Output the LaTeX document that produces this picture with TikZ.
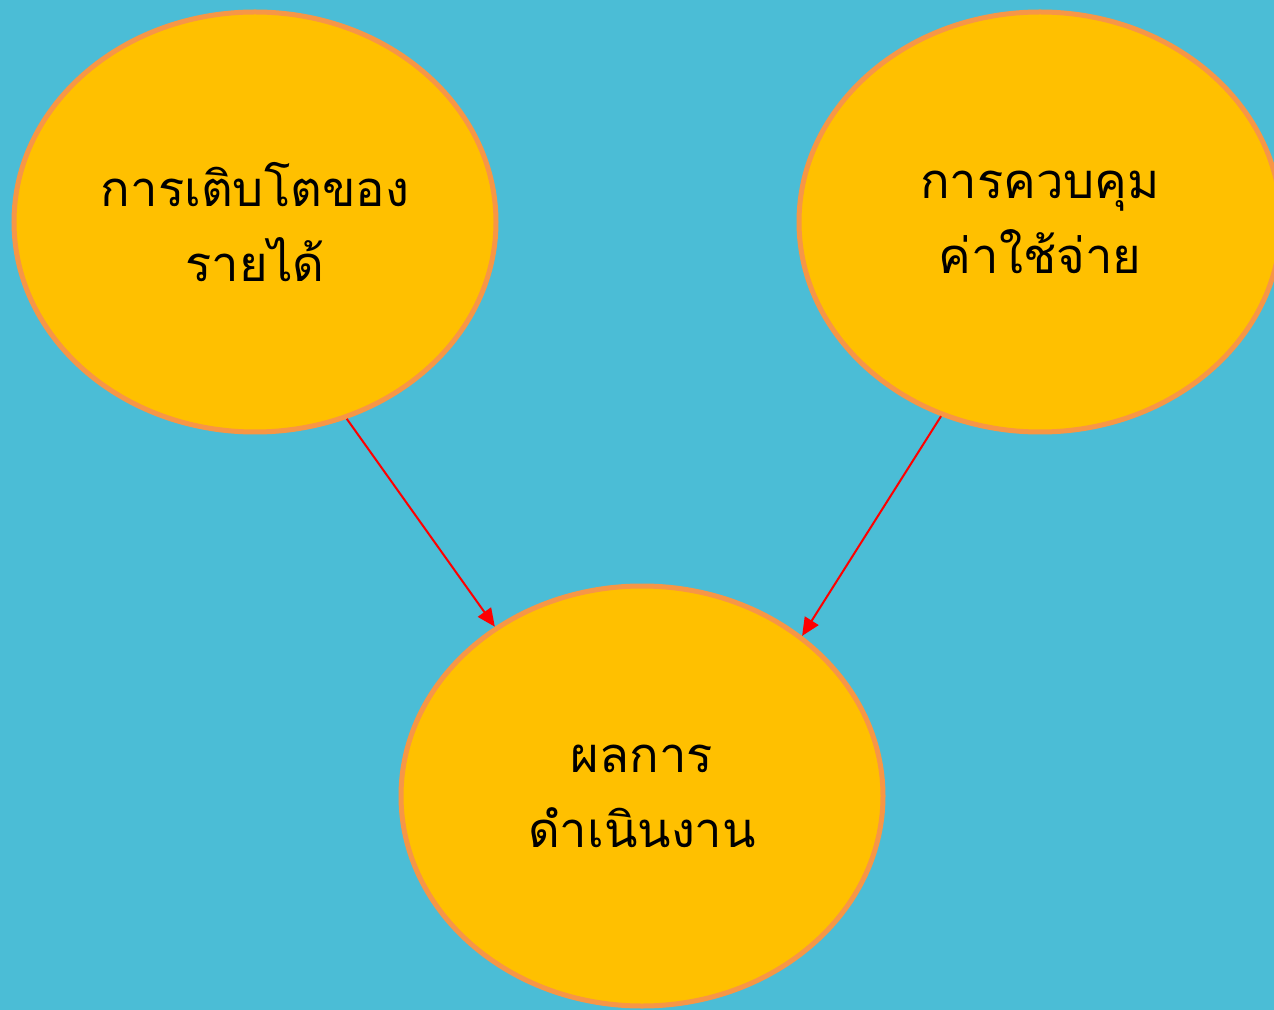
\documentclass[tikz,border=0pt]{standalone}
\usepackage{fontspec}
\newfontfamily\thaifont[Script=Thai]{Loma}
\usetikzlibrary{shapes.geometric,arrows.meta}
\definecolor{bgblue}{RGB}{75,189,214}
\definecolor{fillgold}{RGB}{255,192,0}
\definecolor{rimorange}{RGB}{247,150,70}
\tikzset{
  bubble/.style={ellipse,draw=rimorange,fill=fillgold,line width=2.5pt,
    minimum width=241pt,minimum height=210pt,inner sep=0pt,align=center,
    font=\thaifont\fontsize{24.5}{37.5}\selectfont,text=black},
  link/.style={draw=red,line width=1pt,-{Triangle[length=9pt,width=8pt]}}
}
\begin{document}
\begin{tikzpicture}[x=0.5pt,y=-0.5pt]
\fill[bgblue] (0,0) rectangle (1274,1010);
\useasboundingbox (0,0) rectangle (1274,1010);
\clip (0,0) rectangle (1274,1010);
\node[bubble] (rev) at (255,222) {การเติบโตของ\\รายได้};
\node[bubble] (cost) at (1040,222) {การควบคุม\\ค่าใช้จ่าย};
\node[bubble] (res) at (642,796) {ผลการ\\ดำเนินงาน};
\draw[link] (rev.-65.6) -- (res.131.1);
\draw[link] (cost.-117.3) -- (res.45.2);
\end{tikzpicture}
\end{document}
